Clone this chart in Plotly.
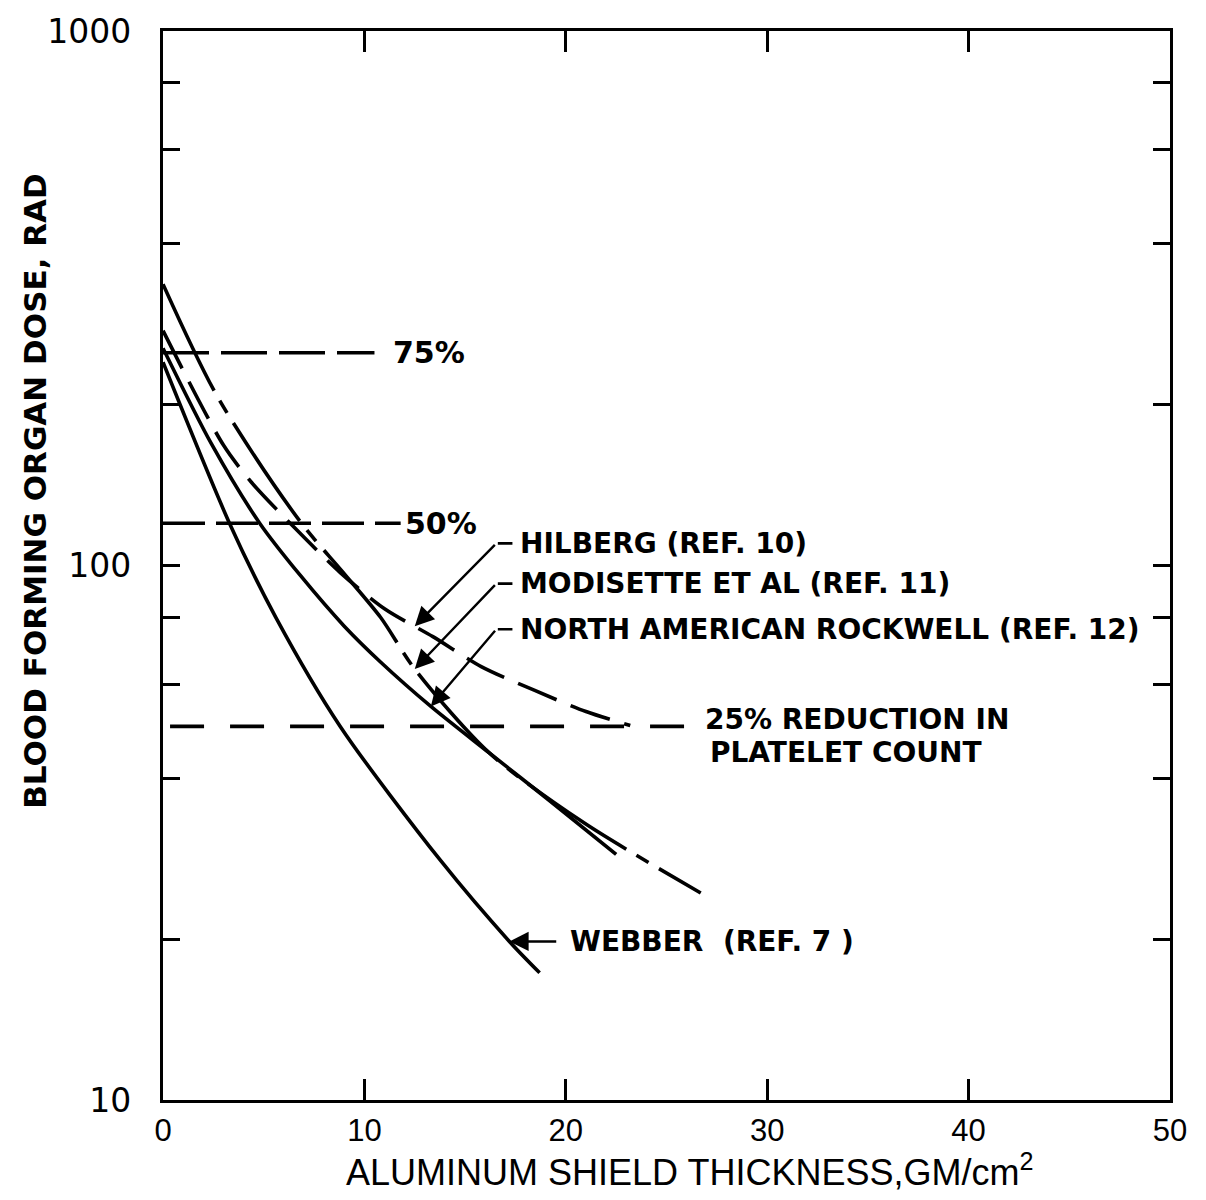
import numpy as np
import plotly.graph_objects as go

# Aluminum shield thickness (g/cm^2) vs. blood forming organ dose (rad)
webber_x = [0, 3.3, 5.6, 8.8, 13.8, 17.2, 18.7]
webber_y = [240, 120, 80, 50, 28, 19.8, 17.3]

hilberg_x = [0, 3.0, 4.4, 6.5, 8.8, 11.0, 13.4, 15.8, 18.4, 21.0, 23.2]
hilberg_y = [275, 168, 143, 118, 97, 83, 73.6, 64.7, 58.5, 53.3, 50.2]

modisette_x = [0, 2.7, 6.8, 8.9, 10.8, 12.5, 16.2, 20.9, 26.7]
modisette_y = [336, 207, 121, 97.5, 80, 64, 44.6, 33.0, 24.4]

nar_x = [0, 2.4, 4.8, 6.8, 9.0, 10.8, 13.3, 16.2, 19.2, 22.5]
nar_y = [255, 169, 120, 96, 77, 66, 54.5, 44.6, 36.3, 28.8]

# Platelet-count reduction thresholds (rad)
threshold_dose = [250, 120, 50]
threshold_text = ["75%", "50%", "25% REDUCTION IN<br>PLATELET COUNT"]
threshold_start = [0, 0, 0.35]
threshold_end = [10.5, 11.8, 26.5]

x_ticks = [0, 10, 20, 30, 40, 50]
y_ticks = [10, 20, 40, 60, 80, 100, 200, 400, 600, 800, 1000]
y_ticktext = ["10", "", "", "", "", "100", "", "", "", "", "1000"]

INK = "#000000"
LABEL_FONT = dict(family="DejaVu Sans, sans-serif", size=28, color=INK, weight="bold")
ARIAL_FONT = dict(family="Liberation Sans, Arial, sans-serif", size=31, color=INK)


def dose_at(xs, ys, x):
    """Log-linear interpolation of a dose curve."""
    return float(10 ** np.interp(x, xs, np.log10(ys)))


fig = go.Figure()

curves = [
    (webber_x, webber_y, "solid"),
    (nar_x, nar_y, "solid"),
    (hilberg_x, hilberg_y, "42px,15px"),
    (modisette_x, modisette_y, "118px,12px,14px,12px"),
]
for xs, ys, dash in curves:
    fig.add_trace(go.Scatter(
        x=xs, y=ys, mode="lines",
        line=dict(color=INK, width=3.6, dash=dash, shape="spline", smoothing=0.8),
        hoverinfo="skip", showlegend=False,
    ))

threshold_dashes = ["46px,12px", "42px,11px", "34px,26px"]
for dose, x0, x1, dash in zip(threshold_dose, threshold_start, threshold_end, threshold_dashes):
    fig.add_trace(go.Scatter(
        x=[x0, x1], y=[dose, dose], mode="lines",
        line=dict(color=INK, width=3.6, dash=dash),
        hoverinfo="skip", showlegend=False,
    ))

annotations = []

# threshold labels (multi-line labels set one line per annotation)
label_gaps = [0.8, 0.1, 0.3]
for dose, x1, text, gap in zip(threshold_dose, threshold_end, threshold_text, label_gaps):
    for i, line in enumerate(text.split("<br>")):
        annotations.append(dict(
            x=x1 + gap + 0.25 * i, y=np.log10(dose), xref="x", yref="y", text=line,
            showarrow=False, xanchor="left", yanchor="middle",
            yshift=7 - 33 * i if "<br>" in text else 0,
            font=dict(LABEL_FONT, size=28 if "<br>" in text else 30),
        ))

# curve labels with bent leaders
leaders = [
    ("HILBERG (REF. 10)", hilberg_x, hilberg_y, 12.5, 110),
    ("MODISETTE ET AL (REF. 11)", modisette_x, modisette_y, 12.5, 92.5),
    ("NORTH AMERICAN ROCKWELL (REF. 12)", nar_x, nar_y, 13.3, 76),
]
for text, xs, ys, tip_x, label_y in leaders:
    bend_x, end_x = 16.55, 17.35
    tip_y = dose_at(xs, ys, tip_x)
    annotations.append(dict(
        x=tip_x, y=np.log10(tip_y), xref="x", yref="y",
        ax=bend_x, ay=np.log10(label_y), axref="x", ayref="y",
        text="", showarrow=True, arrowhead=2, arrowsize=1.6, arrowwidth=2.4,
        arrowcolor=INK,
    ))
    annotations.append(dict(
        x=end_x, y=np.log10(label_y), xref="x", yref="y",
        ax=bend_x, ay=np.log10(label_y), axref="x", ayref="y",
        text="", showarrow=True, arrowhead=0, arrowwidth=2.6, arrowcolor=INK,
    ))
    annotations.append(dict(
        x=end_x + 0.3, y=np.log10(label_y), xref="x", yref="y", text=text,
        showarrow=False, xanchor="left", yanchor="middle", font=LABEL_FONT,
    ))

# Webber label with straight arrow
webber_tip_x = 17.2
webber_tip_y = dose_at(webber_x, webber_y, webber_tip_x)
annotations.append(dict(
    x=webber_tip_x, y=np.log10(webber_tip_y), xref="x", yref="y",
    ax=19.6, ay=np.log10(webber_tip_y), axref="x", ayref="y",
    text="", showarrow=True, arrowhead=2, arrowsize=1.6, arrowwidth=2.4,
    arrowcolor=INK,
))
annotations.append(dict(
    x=20.1, y=np.log10(webber_tip_y), xref="x", yref="y",
    text="WEBBER&nbsp;&nbsp;(REF. 7 )",
    showarrow=False, xanchor="left", yanchor="middle", font=LABEL_FONT,
))

# axis titles
annotations.append(dict(
    x=-0.127, y=0.57, xref="paper", yref="paper",
    text="BLOOD FORMING ORGAN DOSE, RAD", textangle=-90,
    showarrow=False, xanchor="center", yanchor="middle",
    font=dict(LABEL_FONT, size=31),
))
annotations.append(dict(
    x=0.523, y=-0.089, xref="paper", yref="paper",
    text="ALUMINUM SHIELD THICKNESS,GM/cm<sup>2</sup>",
    showarrow=False, xanchor="center", yanchor="bottom",
    font=dict(ARIAL_FONT, size=36),
))

axis_common = dict(
    showline=True, linewidth=3.2, linecolor=INK, mirror="allticks",
    ticks="inside", tickwidth=3, tickcolor=INK,
    showgrid=False, zeroline=False,
)

fig.update_layout(
    width=1206, height=1200,
    margin=dict(l=163, r=36, t=22, b=100),
    paper_bgcolor="white", plot_bgcolor="white",
    xaxis=dict(axis_common, range=[0, 50], tickvals=x_ticks, ticklen=21,
               tickfont=ARIAL_FONT, ticklabelstandoff=1),
    yaxis=dict(axis_common, type="log", range=[1, 3], tickvals=y_ticks,
               ticktext=y_ticktext, ticklen=17,
               tickfont=dict(family="DejaVu Sans, sans-serif", size=33, color=INK),
               ticklabelstandoff=22),
    annotations=annotations,
    showlegend=False,
)

fig.write_html("out.html")
